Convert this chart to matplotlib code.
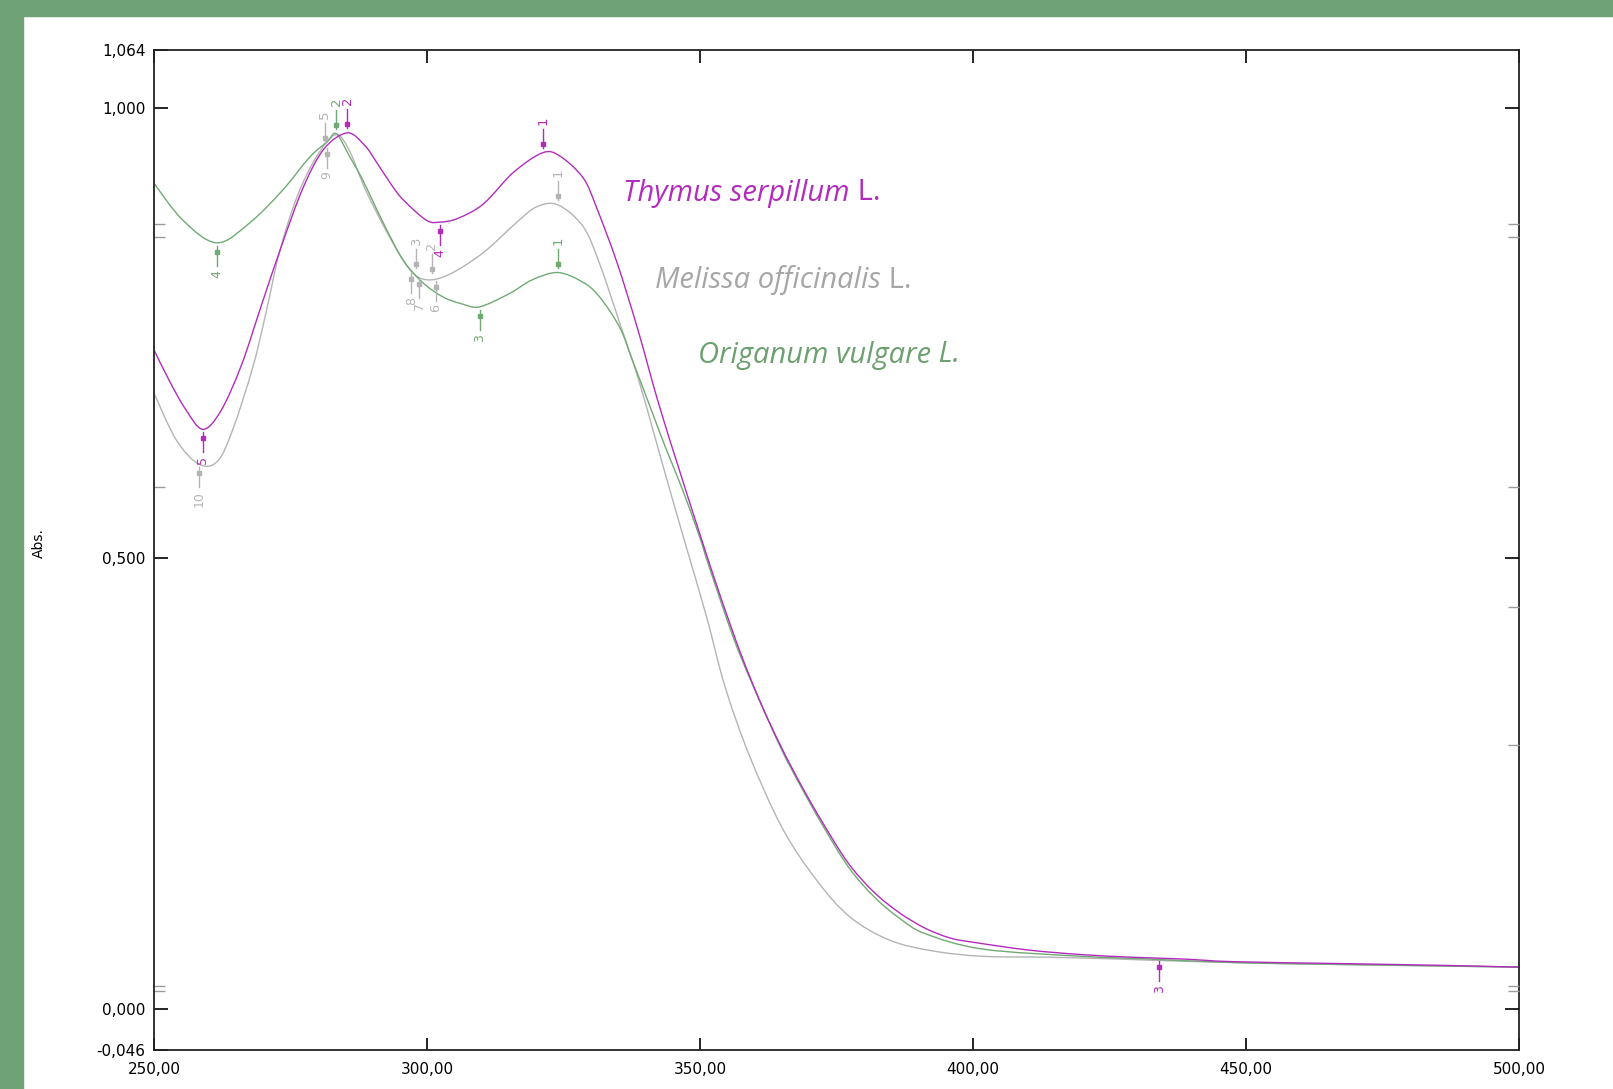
import numpy as np
import matplotlib
matplotlib.use("Agg")
import matplotlib.pyplot as plt
from matplotlib.patches import Rectangle, PathPatch
from matplotlib.path import Path

# UV spectra, wavelength (nm) vs absorbance
thymus_nm = [250.0, 252.8, 255.7, 258.9, 262.2, 266.0, 269.8, 273.5, 277.3, 281.1,
             285.4, 288.6, 290.7, 293.3, 295.6, 299.9, 302.4, 305.6, 310.3, 315.8,
             321.2, 324.4, 328.6, 331.0, 334.8, 338.6, 342.3, 346.1, 349.9, 353.6,
             357.4, 361.2, 364.9, 368.7, 372.5, 377.2, 381.9, 386.6, 391.3, 396.0,
             400.7, 410.1, 419.6, 429.0, 438.4, 447.8, 466.7, 485.5, 500.0]
thymus_abs = [0.731, 0.697, 0.666, 0.643, 0.663, 0.714, 0.783, 0.849, 0.911, 0.954,
              0.972, 0.958, 0.940, 0.916, 0.898, 0.875, 0.873, 0.877, 0.893, 0.928,
              0.950, 0.946, 0.922, 0.890, 0.828, 0.754, 0.674, 0.600, 0.528, 0.460,
              0.395, 0.338, 0.290, 0.246, 0.206, 0.161, 0.129, 0.106, 0.089, 0.078,
              0.073, 0.065, 0.060, 0.057, 0.055, 0.052, 0.050, 0.048, 0.046]

melissa_nm = [250.0, 254.1, 258.3, 261.7, 264.5, 268.1, 270.5, 273.0, 276.2, 279.8,
              283.3, 285.8, 288.8, 293.1, 296.9, 299.9, 304.1, 310.3, 316.3, 320.1,
              324.0, 328.6, 331.6, 335.3, 338.9, 343.8, 347.6, 351.2, 354.6, 359.1,
              365.1, 371.3, 377.4, 384.7, 392.6, 401.8, 414.1, 426.3, 441.6, 466.6,
              500.0]
melissa_abs = [0.683, 0.631, 0.604, 0.608, 0.644, 0.712, 0.772, 0.840, 0.901, 0.946,
               0.970, 0.952, 0.908, 0.857, 0.820, 0.809, 0.815, 0.839, 0.872, 0.890,
               0.892, 0.868, 0.827, 0.761, 0.695, 0.590, 0.510, 0.435, 0.357, 0.280,
               0.200, 0.143, 0.102, 0.076, 0.064, 0.058, 0.057, 0.055, 0.052, 0.049,
               0.046]

origanum_nm = [250.0, 255.3, 261.5, 267.5, 273.5, 278.5, 281.7, 283.4, 285.8, 288.2,
               292.0, 295.6, 299.2, 302.9, 306.5, 309.7, 315.2, 319.3, 324.0, 328.6,
               331.6, 335.3, 337.6, 340.8, 343.8, 346.8, 349.9, 351.7, 356.1, 359.6,
               364.9, 368.7, 372.5, 377.2, 381.9, 386.6, 391.3, 401.8, 419.9, 432.1,
               447.8, 466.6, 500.0]
origanum_abs = [0.916, 0.875, 0.850, 0.872, 0.908, 0.945, 0.962, 0.971, 0.946, 0.920,
                0.872, 0.831, 0.806, 0.790, 0.782, 0.779, 0.794, 0.809, 0.817, 0.806,
                0.790, 0.756, 0.720, 0.669, 0.621, 0.576, 0.524, 0.490, 0.412, 0.360,
                0.288, 0.244, 0.203, 0.157, 0.124, 0.100, 0.083, 0.066, 0.058, 0.055,
                0.051, 0.049, 0.046]

# peak pick marks: (wavelength, number, 'p' = peak / 'v' = valley)
thymus_marks = [(321.2, "1", "p"), (285.4, "2", "p"), (434.1, "3", "v"),
                (302.4, "4", "v"), (258.9, "5", "v")]
melissa_marks = [(324.0, "1", "p"), (300.9, "2", "p"), (298.0, "3", "p"),
                 (281.3, "5", "p"), (301.6, "6", "v"), (298.6, "7", "v"),
                 (297.1, "8", "v"), (281.7, "9", "v"), (258.3, "10", "v")]
origanum_marks = [(324.0, "1", "p"), (283.4, "2", "p"), (309.7, "3", "v"),
                  (261.5, "4", "v")]

x_ticks = [250, 300, 350, 400, 450, 500]
y_ticks = [-0.046, 0.0, 0.5, 1.0, 1.064]
y_minor_left = [0.871, 0.856, 0.579, 0.025, 0.020]
y_minor_right = [0.871, 0.856, 0.579, 0.446, 0.293, 0.025, 0.020]

MAGENTA = "#B22CBB"
GREY = "#B4B4B4"
GREEN = "#6FAA74"
BORDER = "#6FA276"

W, H = 1613, 1089
fig = plt.figure(figsize=(W / 100, H / 100), dpi=100)
fig.patch.set_facecolor("white")
fig.add_artist(Rectangle((0, 0), 23 / W, 1, transform=fig.transFigure, color=BORDER, zorder=0))
fig.add_artist(Rectangle((0, 1 - 16 / H), 1, 16 / H, transform=fig.transFigure, color=BORDER, zorder=0))

ax = fig.add_axes([154 / W, 1 - 1050 / H, 1365 / W, 1000 / H])
ax.set_xlim(250, 500)
ax.set_ylim(-0.046, 1.064)
PX = 1.11 / 1000  # data units per pixel, vertical

lab_font = "DejaVu Sans"


def smooth_line(nm, ab, color):
    # Catmull-Rom through the read points, drawn as bezier path
    x = np.asarray(nm, float)
    y = np.asarray(ab, float)
    n = len(x)
    verts = [(x[0], y[0])]
    codes = [Path.MOVETO]
    for i in range(n - 1):
        i0, i3 = max(i - 1, 0), min(i + 2, n - 1)
        c1 = (x[i] + (x[i + 1] - x[i0]) / 6, y[i] + (y[i + 1] - y[i0]) / 6)
        c2 = (x[i + 1] - (x[i3] - x[i]) / 6, y[i + 1] - (y[i3] - y[i]) / 6)
        verts += [c1, c2, (x[i + 1], y[i + 1])]
        codes += [Path.CURVE4] * 3
    ax.add_patch(PathPatch(Path(verts, codes), fill=False, edgecolor=color, lw=1.0, zorder=2))


def draw_marks(nm, ab, marks, color):
    for wl, num, kind in marks:
        y = np.interp(wl, nm, ab)
        if kind == "p":
            ax.plot([wl, wl], [y + 5 * PX, y + 24 * PX], color=color, lw=1.0, zorder=3)
            ax.plot(wl, y + 9 * PX, "s", ms=3, color=color, zorder=3)
            ax.text(wl, y + 28 * PX, num, rotation=90, ha="center", va="bottom",
                    color=color, fontsize=9.5, family=lab_font)
        else:
            ax.plot([wl, wl], [y - 3 * PX, y - 23 * PX], color=color, lw=1.0, zorder=3)
            ax.plot(wl, y - 9 * PX, "s", ms=3, color=color, zorder=3)
            ax.text(wl, y - 27 * PX, num, rotation=90, ha="center", va="top",
                    color=color, fontsize=9, family=lab_font)


smooth_line(melissa_nm, melissa_abs, GREY)
smooth_line(origanum_nm, origanum_abs, GREEN)
smooth_line(thymus_nm, thymus_abs, MAGENTA)
draw_marks(melissa_nm, melissa_abs, melissa_marks, GREY)
draw_marks(origanum_nm, origanum_abs, origanum_marks, GREEN)
draw_marks(thymus_nm, thymus_abs, thymus_marks, MAGENTA)

ax.set_xticks(x_ticks)
ax.set_xticklabels([f"{v:.2f}".replace(".", ",") for v in x_ticks], family=lab_font, fontsize=11)
ax.set_yticks(y_ticks)
ax.set_yticklabels([f"{v:.3f}".replace(".", ",") for v in y_ticks], family=lab_font, fontsize=11)
ax.set_yticks(y_minor_left, minor=True)
ax.tick_params(axis="x", direction="in", length=9, width=1.2, top=True, bottom=True, pad=9)
ax.tick_params(axis="y", which="major", direction="in", length=10, width=1.2,
               left=True, right=False, pad=6)
ax.tick_params(axis="y", which="minor", direction="in", length=8, width=1.0,
               color="#9a9a9a", left=True, right=False)
for s in ax.spines.values():
    s.set_linewidth(1.3)
    s.set_color("#222222")

ax2 = ax.twinx()
ax2.set_ylim(ax.get_ylim())
ax2.set_yticks([0.0, 0.5, 1.0])
ax2.set_yticks(y_minor_right, minor=True)
ax2.tick_params(axis="y", which="major", direction="in", length=10, width=1.2, labelright=False)
ax2.tick_params(axis="y", which="minor", direction="in", length=8, width=1.0,
                color="#9a9a9a", labelright=False)
for s in ax2.spines.values():
    s.set_visible(False)

fig.text(39 / W, 1 - 543 / H, "Abs.", rotation=90, ha="center", va="center",
         family=lab_font, fontsize=10)

# species names: italic binomial + upright "L."
names = [("Thymus serpillum", " L.", MAGENTA, 0.3436, 0.857, "normal"),
         ("Melissa officinalis", " L.", "#A6A6A6", 0.367, 0.770, "normal"),
         ("Origanum vulgare", " L.", "#6DA070", 0.3985, 0.695, "italic")]
for name, suffix, col, xf, yf, sstyle in names:
    t = ax.text(xf, yf, name, transform=ax.transAxes, ha="left", va="center",
                family="Open Sans", style="italic", fontsize=21, color=col)
    ax.annotate(suffix, xy=(1, 0), xycoords=t, ha="left", va="bottom",
                family="Open Sans", style=sstyle, fontsize=21, color=col)

fig.savefig("out.png", dpi=100)
